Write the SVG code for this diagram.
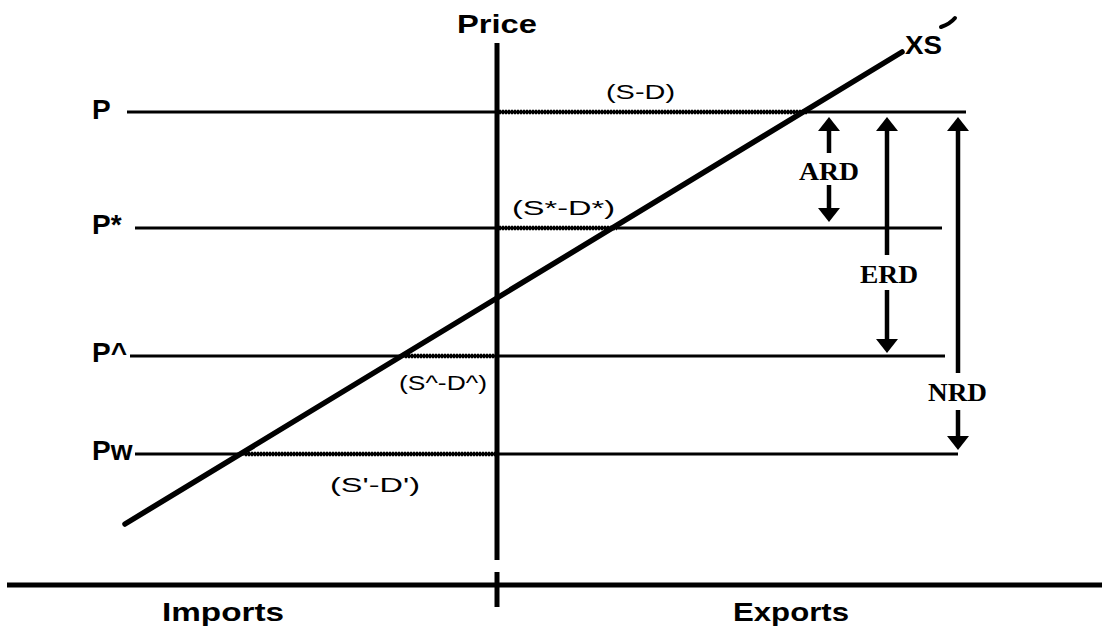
<svg xmlns="http://www.w3.org/2000/svg" width="1102" height="629" viewBox="0 0 1102 629">
<style>
.bg{fill:#fff}
.ax{stroke:#000;stroke-width:5;fill:none}
.pl{stroke:#000;stroke-width:3;fill:none}
.dot{stroke:#000;stroke-width:4.5;stroke-dasharray:2 1;fill:none}
.xs{stroke:#000;stroke-width:5.5;stroke-linecap:round;fill:none}
.arr{stroke:#000;stroke-width:4.5;fill:none}
.lab{font-family:"Liberation Sans",Arial,sans-serif;font-weight:bold;fill:#000}
.sd{font-family:"Liberation Sans",Arial,sans-serif;font-size:20px;fill:#000}
.rd{font-family:"Liberation Serif","Times New Roman",serif;font-weight:bold;font-size:26px;fill:#000}
</style>
<defs>
<marker id="ah" viewBox="0 0 14 22" markerUnits="userSpaceOnUse" markerWidth="14" markerHeight="22" refX="0" refY="11" orient="auto">
<path d="M0,0 L14,11 L0,22 Z" fill="#000"/>
</marker>
</defs>
<rect class="bg" x="0" y="0" width="1102" height="629"/>

<g id="axes">
<line class="ax" x1="497" y1="43" x2="497" y2="560"/>
<line class="ax" x1="497" y1="572" x2="497" y2="607"/>
<line class="ax" x1="7" y1="585" x2="1102" y2="585"/>
<text class="lab" x="457" y="33" font-size="25" textLength="80" lengthAdjust="spacingAndGlyphs">Price</text>
<text class="lab" x="162" y="621" font-size="25" textLength="122" lengthAdjust="spacingAndGlyphs">Imports</text>
<text class="lab" x="733" y="621" font-size="25" textLength="116" lengthAdjust="spacingAndGlyphs">Exports</text>
</g>

<g id="price-P">
<line class="pl" x1="127" y1="112" x2="966" y2="112"/>
<line class="dot" x1="499" y1="112" x2="808" y2="112"/>
<text class="lab" x="92" y="119" font-size="28">P</text>
<text class="sd" x="606" y="99" textLength="69" lengthAdjust="spacingAndGlyphs">(S-D)</text>
</g>

<g id="price-Pstar">
<line class="pl" x1="135" y1="228" x2="942" y2="228"/>
<line class="dot" x1="499" y1="228" x2="617" y2="228"/>
<text class="lab" x="92" y="234" font-size="28">P*</text>
<text class="sd" x="512" y="215" textLength="103" lengthAdjust="spacingAndGlyphs">(S*-D*)</text>
</g>

<g id="price-Phat">
<line class="pl" x1="130" y1="356" x2="945" y2="356"/>
<line class="dot" x1="405" y1="356" x2="495" y2="356"/>
<text class="lab" x="92" y="362" font-size="28">P^</text>
<text class="sd" x="399" y="390" textLength="88" lengthAdjust="spacingAndGlyphs">(S^-D^)</text>
</g>

<g id="price-Pw">
<line class="pl" x1="135" y1="454" x2="958" y2="454"/>
<line class="dot" x1="245" y1="454" x2="495" y2="454"/>
<text class="lab" x="92" y="460" font-size="28">Pw</text>
<text class="sd" x="330" y="492" textLength="90" lengthAdjust="spacingAndGlyphs">(S'-D')</text>
</g>

<g id="xs-curve">
<line class="xs" x1="125" y1="524" x2="902" y2="52"/>
<text class="lab" x="905" y="54" font-size="25" textLength="37" lengthAdjust="spacingAndGlyphs">XS</text>
<path d="M941,27 Q950,24 955,18" stroke="#000" stroke-width="4" stroke-linecap="round" fill="none"/>
</g>

<g id="connectors">
<line class="arr" x1="829" y1="153" x2="829" y2="131" marker-end="url(#ah)"/>
<line class="arr" x1="829" y1="185" x2="829" y2="208" marker-end="url(#ah)"/>
<line class="arr" x1="887" y1="255" x2="887" y2="131" marker-end="url(#ah)"/>
<line class="arr" x1="887" y1="290" x2="887" y2="339" marker-end="url(#ah)"/>
<line class="arr" x1="958" y1="373" x2="958" y2="131" marker-end="url(#ah)"/>
<line class="arr" x1="958" y1="410" x2="958" y2="436" marker-end="url(#ah)"/>
</g>

<g id="label-ARD"><text class="rd" x="799" y="180" textLength="60" lengthAdjust="spacingAndGlyphs">ARD</text></g>
<g id="label-ERD"><text class="rd" x="860" y="283" textLength="58" lengthAdjust="spacingAndGlyphs">ERD</text></g>
<g id="label-NRD"><text class="rd" x="928" y="401" textLength="59" lengthAdjust="spacingAndGlyphs">NRD</text></g>
</svg>
